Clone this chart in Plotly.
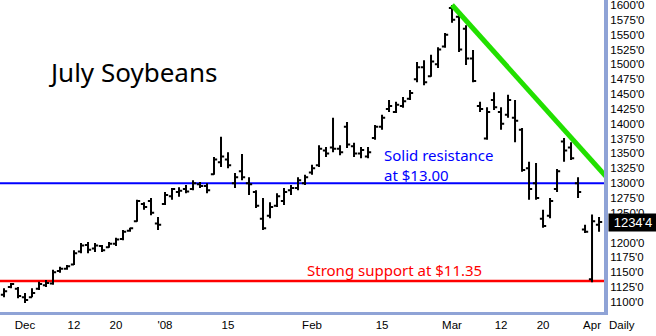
import plotly.graph_objects as go

# Trading-day index (0 = Dec 3 2007), one bar per session
day_idx = list(range(-3, 83))

opens = [1112, 1125, 1122, 1108, 1108, 1122, 1128, 1131, 1152, 1156,
         1163, 1185, 1196, 1190, 1194, 1192, 1198, 1206, 1220, 1236,
         1265, 1270, 1232, 1265, 1278, 1285, 1290, 1290, 1298, 1295,
         1315, 1335, 1340, 1300, 1320, 1300, 1285, 1240, 1245, 1262,
         1270, 1288, 1292, 1300, 1318, 1330, 1355, 1360, 1358, 1395,
         1362, 1350, 1345, 1376, 1395, 1425, 1420, 1430, 1442, 1475,
         1495, 1480, 1500, 1530, 1595, 1580, 1560, 1510, 1430, 1375,
         1440, 1420, 1415, 1410, 1390, 1325, 1300, 1240, 1245, 1290,
         1370, 1360, 1300, 1222, 1138, 1230]
highs = [1123, 1132, 1125, 1115, 1123, 1134, 1137, 1154, 1159, 1162,
         1187, 1199, 1201, 1199, 1196, 1201, 1208, 1221, 1225, 1272,
         1268, 1275, 1243, 1285, 1292, 1293, 1297, 1305, 1302, 1300,
         1344, 1378, 1352, 1317, 1349, 1310, 1288, 1275, 1268, 1283,
         1292, 1297, 1310, 1314, 1331, 1364, 1361, 1410, 1364, 1403,
         1368, 1361, 1361, 1398, 1415, 1440, 1437, 1445, 1457, 1504,
         1507, 1516, 1529, 1553, 1600, 1586, 1566, 1524, 1437, 1428,
         1453, 1428, 1449, 1440, 1393, 1336, 1334, 1255, 1275, 1324,
         1376, 1369, 1310, 1230, 1247, 1243]
lows = [1108, 1123, 1106, 1098, 1108, 1120, 1125, 1129, 1149, 1154,
        1162, 1182, 1182, 1184, 1184, 1191, 1194, 1204, 1218, 1235,
        1255, 1246, 1221, 1263, 1272, 1277, 1283, 1288, 1292, 1283,
        1314, 1327, 1325, 1292, 1305, 1280, 1258, 1221, 1241, 1260,
        1263, 1280, 1288, 1297, 1314, 1327, 1344, 1352, 1347, 1359,
        1344, 1342, 1342, 1373, 1390, 1420, 1418, 1427, 1440, 1470,
        1465, 1479, 1494, 1528, 1570, 1521, 1499, 1470, 1420, 1373,
        1423, 1390, 1410, 1369, 1319, 1272, 1272, 1225, 1241, 1285,
        1336, 1339, 1275, 1216, 1133, 1218]
closes = [1118, 1130, 1110, 1103, 1115, 1130, 1132, 1150, 1156, 1160,
          1182, 1195, 1188, 1195, 1187, 1198, 1205, 1218, 1224, 1270,
          1260, 1250, 1230, 1280, 1290, 1287, 1286, 1300, 1295, 1288,
          1340, 1345, 1330, 1310, 1310, 1298, 1262, 1224, 1260, 1278,
          1285, 1292, 1305, 1310, 1325, 1358, 1350, 1358, 1352, 1365,
          1350, 1356, 1352, 1395, 1410, 1430, 1432, 1438, 1452, 1495,
          1470, 1505, 1525, 1550, 1575, 1525, 1510, 1472, 1425, 1420,
          1428, 1400, 1440, 1405, 1322, 1290, 1275, 1228, 1270, 1320,
          1355, 1342, 1285, 1218, 1236, 1234.5]

# x-axis labels (trading-day index -> label)
xtick_idx = [0, 7, 13, 20, 29, 41, 51, 61, 68, 74, 81]
xtick_txt = ["Dec", "12", "20", "'08", "15", "Feb", "15", "Mar", "12", "20", "Apr"]

# y-axis labels (1225'0 sits under the last-price box)
ytick_vals = [1100 + 25 * k for k in range(21)]
ytick_txt = ["" if v == 1225 else f"{v}'0" for v in ytick_vals]

resistance = 1300
support = 1135
trend_x = [61, 83]
trend_y = [1600, 1311]
last_price = 1234.5
last_label = "1234'4"

AXIS_COL = "#8FA3D6"

fig = go.Figure()
fig.add_trace(go.Ohlc(
    x=day_idx, open=opens, high=highs, low=lows, close=closes,
    increasing=dict(line=dict(color="black", width=2)),
    decreasing=dict(line=dict(color="black", width=2)),
    tickwidth=0.45, hoverinfo="skip", showlegend=False,
))
fig.add_trace(go.Scatter(
    x=trend_x, y=trend_y, mode="lines",
    line=dict(color="#22E000", width=5), hoverinfo="skip", showlegend=False,
))

fig.add_shape(type="line", xref="paper", x0=0, x1=1, yref="y", y0=resistance, y1=resistance,
              line=dict(color="#0000FF", width=2), layer="below")
fig.add_shape(type="line", xref="paper", x0=0, x1=1, yref="y", y0=support, y1=support,
              line=dict(color="#FF0000", width=2.5), layer="below")

fig.add_annotation(x=3.0, y=1487, xref="x", yref="y", text="July Soybeans", showarrow=False,
                   xanchor="left", yanchor="middle",
                   font=dict(family="Noto Sans", size=26, color="black"))
fig.add_annotation(x=51.0, y=1331, xref="x", yref="y", text="Solid resistance<br>at $13.00",
                   showarrow=False, xanchor="left", yanchor="middle", align="left",
                   font=dict(family="Noto Sans", size=15, color="#0000FF"))
fig.add_annotation(x=40.0, y=1154, xref="x", yref="y", text="Strong support at $11.35",
                   showarrow=False, xanchor="left", yanchor="middle",
                   font=dict(family="Noto Sans", size=15, color="#FF0000"))
fig.add_annotation(x=1.0066, y=last_price, xref="paper", yref="y", text=last_label,
                   showarrow=False, xanchor="left", yanchor="middle",
                   bgcolor="black", width=46, height=15, borderpad=1,
                   font=dict(family="Liberation Sans", size=13, color="white"))
fig.add_annotation(x=622 / 604, y=-0.042, xref="paper", yref="paper", text="Daily",
                   showarrow=False, xanchor="center", yanchor="middle",
                   font=dict(family="Liberation Sans", size=11.5, color="black"))

fig.update_layout(
    width=656, height=336,
    margin=dict(l=0, r=52, t=0, b=24),
    paper_bgcolor="white", plot_bgcolor="white",
    showlegend=False,
    xaxis=dict(range=[-3.571, 82.71], tickmode="array", tickvals=xtick_idx, ticktext=xtick_txt,
               showgrid=False, zeroline=False, showline=True, linecolor=AXIS_COL, linewidth=3,
               ticks="", rangeslider=dict(visible=False),
               tickfont=dict(family="Liberation Sans", size=11.5, color="black")),
    yaxis=dict(range=[1083.0, 1608.4], side="right", tickmode="array",
               tickvals=ytick_vals, ticktext=ytick_txt, ticklabeloverflow="allow",
               showgrid=False, zeroline=False, showline=True, linecolor=AXIS_COL, linewidth=4,
               ticks="",
               tickfont=dict(family="Liberation Sans", size=11.5, color="black")),
)

fig.write_html("out.html")
